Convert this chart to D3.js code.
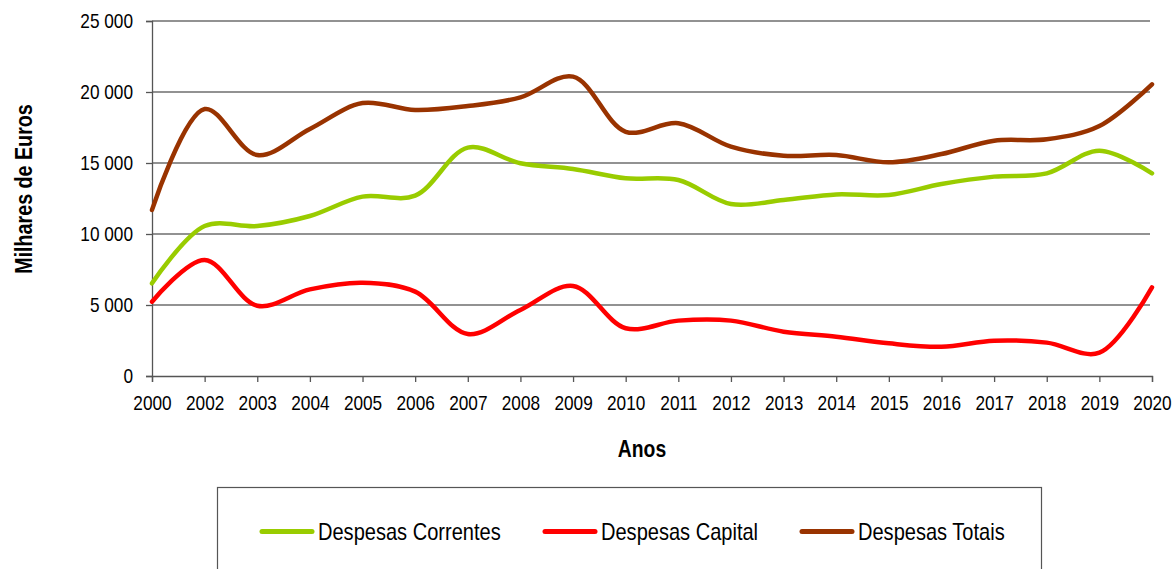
<!DOCTYPE html>
<html>
<head>
<meta charset="utf-8">
<script src="https://cdn.jsdelivr.net/npm/d3@7"></script>
<style>
  body { margin: 0; background: #fff; }
  svg { display: block; }
  text { font-family: "Liberation Sans", Arial, sans-serif; fill: #000; }
</style>
</head>
<body>
<svg id="chart" width="1175" height="569"></svg>
<script>
const years = ['2000', '2002', '2003', '2004', '2005', '2006', '2007', '2008', '2009', '2010',
  '2011', '2012', '2013', '2014', '2015', '2016', '2017', '2018', '2019', '2020'];

const correntes = [6530, 10560, 10560, 11270, 12630, 12700, 16080, 14980, 14580, 13920,
  13800, 12110, 12390, 12790, 12750, 13520, 14040, 14270, 15870, 14270];
const capital = [5230, 8170, 4950, 6100, 6570, 5940, 2960, 4650, 6340, 3360,
  3900, 3900, 3120, 2770, 2300, 2060, 2490, 2350, 1640, 6240];
const totais = [11700, 18800, 15560, 17400, 19220, 18730, 19010, 19620, 21080, 17200,
  17800, 16150, 15510, 15560, 15050, 15630, 16570, 16670, 17600, 20540];

const yTicks = [0, 5000, 10000, 15000, 20000, 25000];

const series = [
  { name: 'Despesas Correntes', values: correntes, color: '#99cc00' },
  { name: 'Despesas Capital', values: capital, color: '#ff0000' },
  { name: 'Despesas Totais', values: totais, color: '#993300' }
];

const svg = d3.select('#chart');
const x = d3.scalePoint().domain(years).range([152, 1152]);
const y = d3.scaleLinear().domain([0, 25000]).range([376, 21]);

const fmt = v => d3.format(',')(v).replace(/,/g, ' ');

// narrow font is not available, so squeeze the glyphs horizontally
function narrow(sel, k) {
  sel.each(function () {
    const w = this.getComputedTextLength();
    d3.select(this).attr('textLength', w * k).attr('lengthAdjust', 'spacingAndGlyphs');
  });
}

// gridlines
svg.append('g').selectAll('line').data(yTicks.filter(d => d > 0)).join('line')
  .attr('x1', 152).attr('x2', 1150)
  .attr('y1', d => y(d)).attr('y2', d => y(d))
  .attr('stroke', '#6e6e6e').attr('stroke-width', 1.3);

// y axis
const yAxis = svg.append('g').attr('transform', 'translate(152,0)')
  .call(d3.axisLeft(y).tickValues(yTicks).tickFormat(fmt).tickSize(6).tickPadding(13));
yAxis.select('.domain').attr('stroke', '#555').attr('stroke-width', 1.3);
yAxis.selectAll('.tick line').attr('stroke', '#555').attr('stroke-width', 1.3);
yAxis.selectAll('text').attr('font-size', 21).attr('font-family', null);

// x axis
const xAxis = svg.append('g').attr('transform', 'translate(0,376)')
  .call(d3.axisBottom(x).tickSize(6).tickPadding(13));
xAxis.select('.domain').attr('stroke', '#555').attr('stroke-width', 1.3);
xAxis.selectAll('.tick line').attr('stroke', '#555').attr('stroke-width', 1.3);
xAxis.selectAll('text').attr('font-size', 21).attr('font-family', null);

narrow(yAxis.selectAll('text'), 0.82);
narrow(xAxis.selectAll('text'), 0.82);

// axis titles
const yTitle = svg.append('text')
  .attr('transform', 'translate(32,189) rotate(-90)')
  .attr('text-anchor', 'middle')
  .attr('font-size', 24).attr('font-weight', 'bold')
  .text('Milhares de Euros');

const xTitle = svg.append('text')
  .attr('x', 642).attr('y', 457)
  .attr('text-anchor', 'middle')
  .attr('font-size', 23).attr('font-weight', 'bold')
  .text('Anos');

narrow(yTitle, 0.82);
narrow(xTitle, 0.84);

// lines
const line = d3.line()
  .x((d, i) => x(years[i]))
  .y(d => y(d))
  .curve(d3.curveCatmullRom.alpha(0.5));

svg.append('g').selectAll('path').data(series).join('path')
  .attr('d', d => line(d.values))
  .attr('fill', 'none')
  .attr('stroke', d => d.color)
  .attr('stroke-width', 4.5)
  .attr('stroke-linecap', 'round')
  .attr('stroke-linejoin', 'round');

// legend
svg.append('rect')
  .attr('x', 217.5).attr('y', 487.5)
  .attr('width', 824).attr('height', 120)
  .attr('fill', 'none').attr('stroke', '#555').attr('stroke-width', 1.2);

const legendX = [262, 545, 802];
const item = svg.append('g').selectAll('g').data(series).join('g')
  .attr('transform', (d, i) => `translate(${legendX[i]},531.5)`);
item.append('line')
  .attr('x1', 0).attr('x2', 50)
  .attr('stroke', d => d.color).attr('stroke-width', 5)
  .attr('stroke-linecap', 'round');
const legendText = item.append('text')
  .attr('x', 56).attr('y', 8.5)
  .attr('font-size', 24)
  .text(d => d.name);
narrow(legendText, 0.835);
</script>
</body>
</html>
